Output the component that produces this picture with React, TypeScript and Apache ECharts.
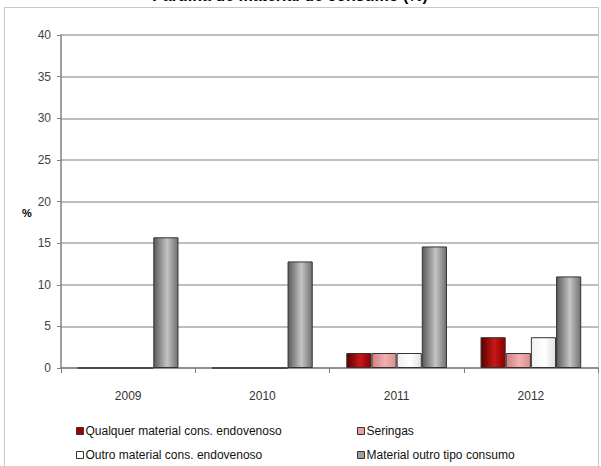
import React, { useEffect, useRef } from "react";
import * as echarts from "echarts";

const categories = ["2009", "2010", "2011", "2012"];
const seriesNames = [
  "Qualquer material cons. endovenoso",
  "Seringas",
  "Outro material cons. endovenoso",
  "Material outro tipo consumo",
];
const qualquer = [0, 0, 1.8, 3.7];
const seringas = [0, 0, 1.8, 1.8];
const outro = [0, 0, 1.8, 3.7];
const materialOutro = [15.7, 12.8, 14.6, 11.0];
const title = "Partilha de material de consumo (%)";

const grad = (a: string, b: string, c: string) =>
  new echarts.graphic.LinearGradient(0, 0, 1, 0, [
    { offset: 0, color: a },
    { offset: 0.55, color: b },
    { offset: 1, color: c },
  ]);

export default function App() {
  const ref = useRef<HTMLDivElement>(null);
  useEffect(() => {
    if (!ref.current) return;
    const chart = echarts.init(ref.current, null, { renderer: "svg" });
    const fills = [
      grad("#5a0000", "#c81818", "#8a0000"),
      grad("#d08080", "#f2b0b0", "#d89090"),
      grad("#f0f0f0", "#ffffff", "#e0e0e0"),
      grad("#5a5a5a", "#c4c4c4", "#707070"),
    ];
    const legendColors = ["#a00000", "#e8a0a0", "#ffffff", "#a0a0a0"];
    const data = [qualquer, seringas, outro, materialOutro];
    const legendPos = [
      { left: 76, top: 425 },
      { left: 357, top: 425 },
      { left: 76, top: 449 },
      { left: 357, top: 449 },
    ];
    chart.setOption({
      animation: false,
      backgroundColor: "#ffffff",
      textStyle: { fontFamily: "Liberation Sans, Arial, sans-serif" },
      graphic: [
        {
          type: "rect",
          shape: { x: 4.5, y: 7.5, width: 594, height: 470 },
          style: { fill: "none", stroke: "#c8c8c8", lineWidth: 1 },
          silent: true,
        },
        {
          type: "text",
          x: 290,
          y: -13,
          style: {
            text: title,
            font: "bold 16px Liberation Sans, Arial, sans-serif",
            fill: "#000",
            textAlign: "center",
            textVerticalAlign: "top",
          },
        },
        {
          type: "text",
          x: 22,
          y: 207,
          style: {
            text: "%",
            font: "bold 11px Liberation Sans, Arial, sans-serif",
            fill: "#000",
          },
        },
      ],
      legend: seriesNames.map((n, i) => ({
        data: [{ name: n, itemStyle: { color: legendColors[i], borderColor: "#333", borderWidth: 1 } }],
        left: legendPos[i].left,
        top: legendPos[i].top,
        icon: "rect",
        itemWidth: 7,
        itemHeight: 7,
        itemGap: 2,
        padding: 0,
        textStyle: { fontSize: 12, color: "#111", padding: [0, 0, 0, -3] },
        selectedMode: false,
      })),
      grid: { left: 61, right: 3, top: 35, bottom: 98, containLabel: false },
      xAxis: {
        type: "category",
        data: categories,
        axisLine: { lineStyle: { color: "#808080", width: 1.5 } },
        axisTick: { show: true, length: 5, lineStyle: { color: "#808080" } },
        axisLabel: { fontSize: 12, color: "#333", margin: 22 },
      },
      yAxis: {
        type: "value",
        min: 0,
        max: 40,
        interval: 5,
        axisLine: { show: true, lineStyle: { color: "#808080", width: 1.5 } },
        axisTick: { show: true, length: 4, lineStyle: { color: "#808080" } },
        axisLabel: { fontSize: 12, color: "#444", margin: 10 },
        splitLine: { lineStyle: { color: "#a8a8a8", width: 1.5 } },
      },
      series: seriesNames.map((n, i) => ({
        name: n,
        type: "bar",
        data: data[i],
        barGap: "0%",
        barCategoryGap: "25%",
        itemStyle: { color: fills[i], borderColor: "#333", borderWidth: 1 },
      })),
    });
    return () => chart.dispose();
  }, []);
  return (
    <div
      ref={ref}
      style={{ position: "fixed", left: 0, top: 0, width: 601, height: 466 }}
    />
  );
}
